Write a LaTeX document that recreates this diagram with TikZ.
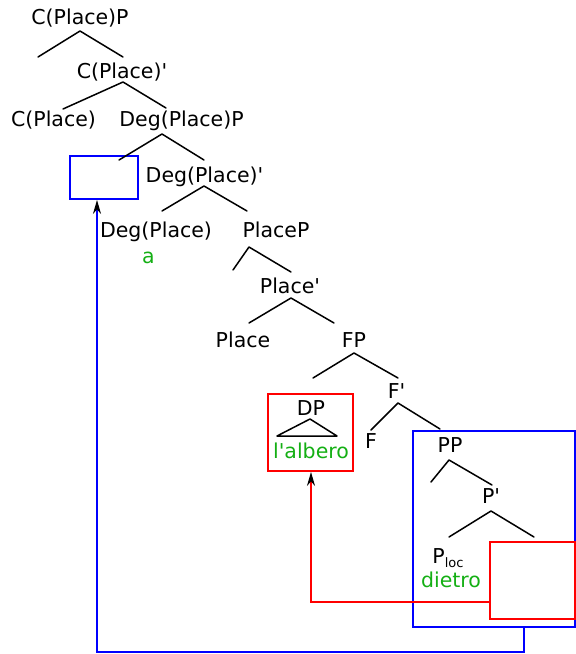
\documentclass[tikz,border=0pt]{standalone}
\usepackage{fontspec}
% plain family: no TeX ligatures, so ' stays a straight apostrophe
\newfontfamily\labfont{DejaVu Sans}
\usetikzlibrary{arrows.meta}
\definecolor{lexgreen}{RGB}{20,175,20}
\definecolor{movblue}{RGB}{0,0,255}
\definecolor{movred}{RGB}{255,0,0}
\begin{document}
\begin{tikzpicture}[x=1pt,y=-1pt,
  lab/.style={inner sep=0pt,anchor=base,font=\labfont\fontsize{20.5}{24}\selectfont},
  lex/.style={lab,text=lexgreen},
  branch/.style={line width=1.5pt,black,line cap=round,line join=round},
  slotbox/.style={draw=#1,line width=1.8pt,inner sep=0pt},
  movearrow/.style={draw=#1,line width=1.6pt,
    -{Stealth[length=14pt,width=8pt,inset=4.5pt,black]}},
]
\useasboundingbox (0,0) rectangle (576,654);

% ---- boxes marking moved constituents and their landing sites
\node[slotbox=movblue,minimum width=68pt,minimum height=43pt] (specbox) at (104,177.5) {};
\node[slotbox=movred,minimum width=85pt,minimum height=77pt] (dpbox) at (310.5,432.5) {};
\node[slotbox=movblue,minimum width=162pt,minimum height=196pt] (ppbox) at (494,529) {};
\node[slotbox=movred,minimum width=85pt,minimum height=77pt] (compbox) at (532.5,580.5) {};

% ---- node labels
\node[lab] (cplP)   at (80,24)    {C(Place)P};
\node[lab] (cplb)   at (122,78)   {C(Place)'};
\node[lab] (cpl)    at (53.5,126) {C(Place)};
\node[lab] (degP)   at (181.5,126){Deg(Place)P};
\node[lab] (degb)   at (204.5,182){Deg(Place)'};
\node[lab] (deg)    at (156,237)  {Deg(Place)};
\node[lex] (a)      at (148.5,263){a};
\node[lab] (placeP) at (276,237)  {PlaceP};
\node[lab] (placeb) at (290,293)  {Place'};
\node[lab] (place)  at (243,347)  {Place};
\node[lab] (fP)     at (354,347)  {FP};
\node[lab] (fb)     at (396.5,398){F'};
\node[lab] (dP)     at (311,415)  {DP};
\node[lex] (albero) at (311,458)  {l'albero};
\node[lab] (f)      at (371,448)  {F};
\node[lab] (pP)     at (450,452)  {PP};
\node[lab] (pb)     at (491,503)  {P'};
\node[lab] (ploc)   at (448,563)  {P\raisebox{-4pt}{\fontsize{13}{15}\selectfont loc}};
\node[lex] (dietro) at (451,587)  {dietro};

% ---- branch points
\coordinate (t1a) at (80,31);   \coordinate (t1l) at (38,57);   \coordinate (t1r) at (123,57);
\coordinate (t2a) at (123,82);  \coordinate (t2l) at (63,109);  \coordinate (t2r) at (166,108);
\coordinate (t3a) at (162,134); \coordinate (t3l) at (119,160); \coordinate (t3r) at (204,160);
\coordinate (t4a) at (204,186); \coordinate (t4l) at (162,211); \coordinate (t4r) at (247,211);
\coordinate (t5a) at (249,247); \coordinate (t5l) at (233,270); \coordinate (t5r) at (291,272);
\coordinate (t6a) at (291,298); \coordinate (t6l) at (249,323); \coordinate (t6r) at (334,323);
\coordinate (t7a) at (354,353); \coordinate (t7l) at (313,378); \coordinate (t7r) at (398,378);
\coordinate (t8a) at (398,403); \coordinate (t8l) at (371,430); \coordinate (t8r) at (440,429);
\coordinate (t9a) at (449,460); \coordinate (t9l) at (431,482); \coordinate (t9r) at (492,485);
\coordinate (tAa) at (491,511); \coordinate (tAl) at (449,537); \coordinate (tAr) at (534,537);
\coordinate (triA) at (310,419); \coordinate (triL) at (277,436); \coordinate (triR) at (337,436);

\foreach \t in {t1,t2,t3,t4,t5,t6,t7,t8,t9,tA}
  \draw[branch] (\t l) -- (\t a) -- (\t r);
\draw[branch] (triL) -- (triA) -- (triR) -- cycle;

% ---- movement paths
\coordinate (r1) at (311,602);
\draw[movearrow=movred] (compbox.west |- r1) -- (r1) -- (r1 |- dpbox.south);

\coordinate (b1) at (524,652);
\coordinate (b2) at (97,652);
\draw[movearrow=movblue] (ppbox.south -| b1) -- (b1) -- (b2) -- (b2 |- specbox.south);
\end{tikzpicture}
\end{document}
